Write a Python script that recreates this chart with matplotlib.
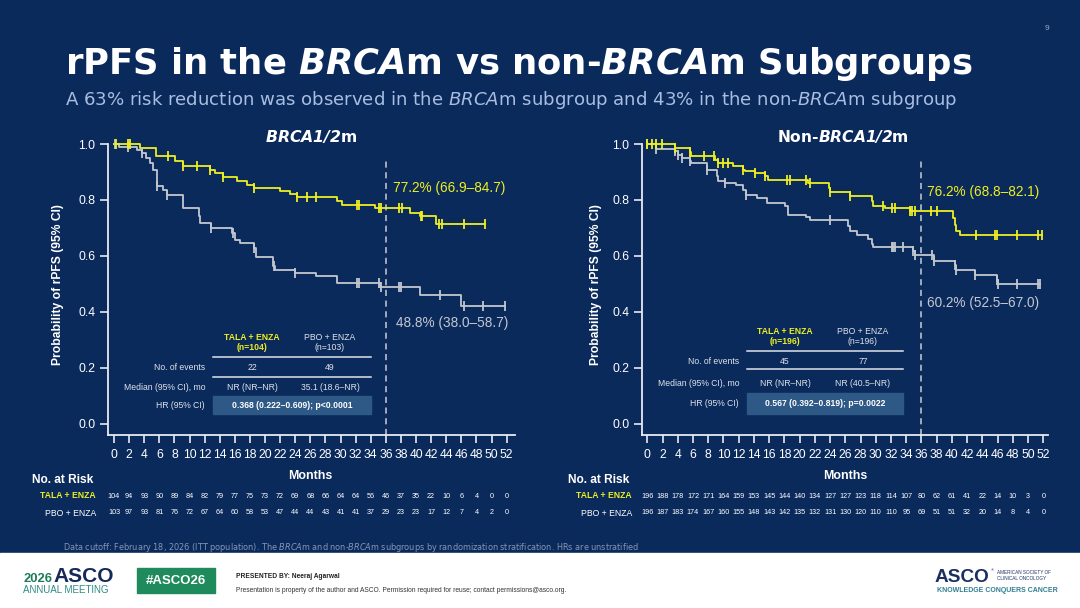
import numpy as np
import matplotlib
matplotlib.use("Agg")
import matplotlib.pyplot as plt
from matplotlib.patches import Rectangle
from matplotlib.lines import Line2D
from matplotlib.transforms import blended_transform_factory

plt.rcParams['font.family'] = ['Liberation Sans', 'DejaVu Sans']
plt.rcParams['mathtext.fontset'] = 'dejavusans'

# ---- data ----
months = list(range(0, 53, 2))

# BRCA1/2m
brca_tala_t = [0, 3.4, 5.6, 8.1, 9.2, 12.7, 13.4, 14.4, 16.3, 17.6, 18.5, 22.0, 23.3, 24.2,
               29.5, 30.2, 34.6, 39.2, 40.5, 42.7]
brca_tala_s = [1.0, 0.985, 0.956, 0.938, 0.92, 0.908, 0.896, 0.882, 0.869, 0.855, 0.843, 0.833,
               0.823, 0.811, 0.798, 0.783, 0.772, 0.754, 0.744, 0.714]
brca_tala_end = 49.1
brca_tala_cens = [0.2, 1.9, 2.1, 7.2, 9.2, 11.0, 12.7, 14.4, 18.6, 24.2, 25.5, 26.8, 32.2, 32.4,
                  35.1, 35.3, 37.8, 38.1, 40.6, 40.8, 43.1, 43.4, 46.3, 49.1]

brca_pbo_t = [0, 0.6, 3.0, 3.7, 4.3, 4.8, 5.2, 5.7, 6.5, 7.0, 9.2, 11.2, 11.4, 12.9, 15.6, 16.0,
              16.7, 18.5, 18.8, 21.1, 21.3, 24.0, 26.8, 29.5, 35.2, 40.5, 46.0]
brca_pbo_s = [1.0, 0.99, 0.98, 0.968, 0.95, 0.932, 0.908, 0.849, 0.837, 0.819, 0.771, 0.742, 0.718,
              0.70, 0.682, 0.658, 0.646, 0.629, 0.598, 0.563, 0.551, 0.539, 0.527, 0.503, 0.488,
              0.462, 0.420]
brca_pbo_end = 51.8
brca_pbo_cens = [0.1, 1.8, 3.7, 5.7, 7.0, 12.9, 15.8, 18.5, 21.2, 24.0, 32.2, 32.4, 35.1, 35.3,
                 37.8, 38.0, 43.2, 46.3, 48.9, 51.8]

brca_risk_tala = [104, 94, 93, 90, 89, 84, 82, 79, 77, 75, 73, 72, 69, 68, 66, 64, 64, 56, 46, 37,
                  35, 22, 10, 6, 4, 0, 0]
brca_risk_pbo = [103, 97, 93, 81, 76, 72, 67, 64, 60, 58, 53, 47, 44, 44, 43, 41, 41, 37, 29, 23,
                 23, 17, 12, 7, 4, 2, 0]

# Non-BRCA1/2m
non_tala_t = [0, 3.6, 5.6, 5.8, 8.9, 9.3, 11.3, 12.6, 12.8, 14.1, 15.5, 15.8, 21.1, 23.8, 24.0,
              26.6, 29.5, 29.7, 31.2, 34.5, 40.2, 40.4, 40.6, 41.0]
non_tala_s = [1.0, 0.986, 0.971, 0.956, 0.944, 0.932, 0.92, 0.908, 0.902, 0.896, 0.885, 0.87,
              0.86, 0.843, 0.827, 0.813, 0.795, 0.78, 0.771, 0.762, 0.735, 0.71, 0.69, 0.674]
non_tala_end = 51.8
non_tala_cens = [0.0, 0.6, 1.2, 1.9, 3.6, 5.6, 7.4, 8.7, 9.3, 10.0, 10.6, 12.6, 14.1, 15.5, 18.3,
                 18.7, 20.9, 21.4, 24.0, 26.6, 31.0, 32.1, 32.5, 34.5, 34.8, 35.1, 37.3, 38.0,
                 43.2, 45.7, 45.9, 48.5, 51.3, 51.8]

non_pbo_t = [0, 1.2, 3.6, 4.0, 4.5, 5.6, 5.8, 7.8, 9.1, 9.3, 10.2, 11.7, 12.6, 13.0, 14.4, 15.7,
             18.1, 18.5, 20.9, 21.4, 26.4, 26.6, 27.5, 29.0, 29.5, 29.7, 34.9, 35.1, 37.6, 40.4,
             40.6, 43.0, 45.9, 46.1]
non_pbo_s = [1.0, 0.982, 0.974, 0.962, 0.95, 0.938, 0.932, 0.908, 0.885, 0.869, 0.861, 0.855,
             0.837, 0.819, 0.807, 0.789, 0.777, 0.748, 0.738, 0.730, 0.706, 0.688, 0.676, 0.661,
             0.644, 0.631, 0.617, 0.602, 0.581, 0.569, 0.551, 0.533, 0.515, 0.50]
non_pbo_end = 51.6
non_pbo_cens = [0.0, 1.2, 3.6, 4.0, 4.5, 5.6, 7.8, 10.2, 13.0, 24.0, 32.1, 32.3, 32.5, 33.6, 34.9,
                35.1, 37.4, 37.6, 40.4, 40.6, 43.0, 45.9, 46.1, 48.5, 51.3, 51.6]

non_risk_tala = [196, 188, 178, 172, 171, 164, 159, 153, 145, 144, 140, 134, 127, 127, 123, 118,
                 114, 107, 80, 62, 61, 41, 22, 14, 10, 3, 0]
non_risk_pbo = [196, 187, 183, 174, 167, 160, 155, 148, 143, 142, 135, 132, 131, 130, 120, 110,
                110, 95, 69, 51, 51, 32, 20, 14, 8, 4, 0]

brca_table = [["22", "49"], ["NR (NR\u2013NR)", "35.1 (18.6\u2013NR)"],
              "0.368 (0.222\u20130.609); p<0.0001"]
non_table = [["45", "77"], ["NR (NR\u2013NR)", "NR (40.5\u2013NR)"],
             "0.567 (0.392\u20130.819); p=0.0022"]
brca_n = ["(n=104)", "(n=103)"]
non_n = ["(n=196)", "(n=196)"]
brca_pct = ["77.2% (66.9\u201384.7)", "48.8% (38.0\u201358.7)"]
non_pct = ["76.2% (68.8\u201382.1)", "60.2% (52.5\u201367.0)"]

# ---- style ----
NAVY = '#0b2a5c'
YEL = '#eeee22'
GRY = '#c3c7cf'
AXC = '#e8ebf2'
BOX = '#2e5886'
DJ = ['DejaVu Sans']
W, H = 1080, 608

fig = plt.figure(figsize=(10.8, 6.08), dpi=100)
fig.patch.set_facecolor(NAVY)
fig.patches.append(Rectangle((0, 0), 1, (H - 553) / H, transform=fig.transFigure,
                             color='white', zorder=0))
renderer = fig.canvas.get_renderer()


def fx(x):
    return x / W


def fy(y):
    return 1 - y / H


def fit(t, width):
    w = t.get_window_extent(renderer).width
    t.set_fontsize(t.get_fontsize() * width / w)
    return t


# header
fit(fig.text(fx(65), fy(74), r"rPFS in the $\mathbfit{BRCA}$m vs non-$\mathbfit{BRCA}$m Subgroups",
             fontsize=24, fontweight='bold', color='white', family=DJ, va='baseline'), 910)
fit(fig.text(fx(65), fy(105), r"A 63% risk reduction was observed in the $\mathit{BRCA}$m subgroup "
             r"and 43% in the non-$\mathit{BRCA}$m subgroup",
             fontsize=12, color='#a9bde0', family=DJ, va='baseline'), 890)
fig.text(fx(1047), fy(28), "9", fontsize=6, color='#9aa8c4', ha='center', va='center')


def step_value(t, s, c):
    i = np.searchsorted(t, c, side='right') - 1
    return np.asarray(s)[i]


def km(ax, t, s, end, cens, color):
    tt = list(t) + [end]
    ss = list(s) + [s[-1]]
    ax.step(tt, ss, where='post', color=color, lw=1.3, clip_on=False, zorder=3)
    cy = step_value(np.array(t), s, np.array(cens))
    ax.plot(cens, cy, ls='none', marker='|', ms=7, mew=1.3, color=color, clip_on=False, zorder=4)


panels = [
    dict(pos=(108, 515), x0=114, x1=506.7, title=r"$\mathbfit{BRCA1/2}$m", title_w=92,
         tcx=311, tala=(brca_tala_t, brca_tala_s, brca_tala_end, brca_tala_cens),
         pbo=(brca_pbo_t, brca_pbo_s, brca_pbo_end, brca_pbo_cens),
         risk=(brca_risk_tala, brca_risk_pbo), table=brca_table, n=brca_n, pct=brca_pct,
         pct_xy=((393, 188), (396, 323)), ylab_x=58, nrisk_x=32, lab_x=96,
         tab=dict(lab=205, c1=252, c2=330, l0=213, l1=371, h1=337, h2=348, ln1=357, r1=367,
                  ln2=377, r2=387, r3=405, b0=396, b1=414)),
    dict(pos=(641.7, 1048), x0=647.3, x1=1043.3, title=r"Non-$\mathbfit{BRCA1/2}$m", title_w=132,
         tcx=843, tala=(non_tala_t, non_tala_s, non_tala_end, non_tala_cens),
         pbo=(non_pbo_t, non_pbo_s, non_pbo_end, non_pbo_cens),
         risk=(non_risk_tala, non_risk_pbo), table=non_table, n=non_n, pct=non_pct,
         pct_xy=((927, 192), (927, 303)), ylab_x=596, nrisk_x=568, lab_x=632,
         tab=dict(lab=739, c1=785, c2=863, l0=747, l1=903, h1=332, h2=342, ln1=351, r1=361,
                  ln2=369, r2=383, r3=404, b0=393, b1=414)),
]

ytop, ybot, y0px = 144, 435, 424
for p in panels:
    L, R = p['pos']
    ax = fig.add_axes([fx(L), fy(ybot), (R - L) / W, (ybot - ytop) / H])
    ax.set_facecolor('none')
    ppm = (p['x1'] - p['x0']) / 52
    ylo = -(ybot - y0px) / (y0px - ytop)
    ax.set_xlim((L - p['x0']) / ppm, (R - p['x0']) / ppm)
    ax.set_ylim(ylo, 1.0)
    for side in ['top', 'right']:
        ax.spines[side].set_visible(False)
    for side in ['left', 'bottom']:
        ax.spines[side].set_color(AXC)
        ax.spines[side].set_linewidth(1.3)
    ax.set_xticks(months)
    ax.set_yticks([0, 0.2, 0.4, 0.6, 0.8, 1.0])
    ax.set_yticklabels(['0.0', '0.2', '0.4', '0.6', '0.8', '1.0'])
    ax.tick_params(colors=AXC, labelcolor='white', labelsize=8.7, length=6, width=1.2, pad=3)
    ax.tick_params(axis='x', pad=4)

    km(ax, *p['pbo'], GRY)
    km(ax, *p['tala'], YEL)
    dash_top = 1.0 - (158 - ytop) / (y0px - ytop)
    ax.plot([36, 36], [ylo, dash_top], color='#c9cdd6', lw=1.1, ls=(0, (4, 3)), zorder=2,
            clip_on=False)

    # labels
    fit(fig.text(fx(p['tcx']), fy(142), p['title'], fontsize=12, fontweight='bold',
                 color='white', family=DJ, ha='center', va='baseline'), p['title_w'])
    fig.text(fx(p['ylab_x']), fy(285), "Probability of rPFS (95% CI)", rotation=90,
             fontsize=8.7, fontweight='bold', color='white', ha='center', va='center')
    fig.text(fx((p['x0'] + p['x1']) / 2), fy(476), "Months", fontsize=8.9, fontweight='bold',
             color='white', ha='center', va='center')
    (px1, py1), (px2, py2) = p['pct_xy']
    fig.text(fx(px1), fy(py1), p['pct'][0], fontsize=9.8, color=YEL, ha='left', va='center')
    fig.text(fx(px2), fy(py2), p['pct'][1], fontsize=9.8, color=GRY, ha='left', va='center')

    # number at risk
    fig.text(fx(p['nrisk_x']), fy(480), "No. at Risk", fontsize=8.6, fontweight='bold',
             color='white', ha='left', va='center')
    fig.text(fx(p['lab_x']), fy(496), "TALA + ENZA", fontsize=6.2, fontweight='bold',
             color=YEL, ha='right', va='center')
    fig.text(fx(p['lab_x']), fy(513), "PBO + ENZA", fontsize=6.2, color='white',
             ha='right', va='center')
    tr = blended_transform_factory(ax.transData, fig.transFigure)
    for m, a, b in zip(months, p['risk'][0], p['risk'][1]):
        ax.text(m, fy(496), str(a), transform=tr, fontsize=5.2, color='white',
                ha='center', va='center')
        ax.text(m, fy(513), str(b), transform=tr, fontsize=5.2, color='white',
                ha='center', va='center')

    # summary table
    tb = p['tab']
    tcol = '#dfe3ea'
    fig.text(fx(tb['c1']), fy(tb['h1']), "TALA + ENZA", fontsize=6.2, fontweight='bold',
             color=YEL, ha='center', va='center')
    fig.text(fx(tb['c1']), fy(tb['h2']), p['n'][0], fontsize=6.2, fontweight='bold',
             color=YEL, ha='center', va='center')
    fig.text(fx(tb['c2']), fy(tb['h1']), "PBO + ENZA", fontsize=6.2, color=tcol,
             ha='center', va='center')
    fig.text(fx(tb['c2']), fy(tb['h2']), p['n'][1], fontsize=6.2, color=tcol,
             ha='center', va='center')
    for yy in (tb['ln1'], tb['ln2']):
        fig.lines.append(Line2D([fx(tb['l0']), fx(tb['l1'])], [fy(yy), fy(yy)],
                                transform=fig.transFigure, color='#dfe3ea', lw=1.1))
    fig.text(fx(tb['lab']), fy(tb['r1']), "No. of events", fontsize=6.2, color=tcol,
             ha='right', va='center')
    fig.text(fx(tb['lab']), fy(tb['r2']), "Median (95% CI), mo", fontsize=6.2, color=tcol,
             ha='right', va='center')
    fig.text(fx(tb['lab']), fy(tb['r3']), "HR (95% CI)", fontsize=6.2, color=tcol,
             ha='right', va='center')
    for col, key in ((0, 'c1'), (1, 'c2')):
        fig.text(fx(tb[key]), fy(tb['r1']), p['table'][0][col], fontsize=6.2, color=tcol,
                 ha='center', va='center')
        fig.text(fx(tb[key]), fy(tb['r2']), p['table'][1][col], fontsize=6.2, color=tcol,
                 ha='center', va='center')
    fig.patches.append(Rectangle((fx(tb['l0']), fy(tb['b1'])), (tb['l1'] - tb['l0']) / W,
                                 (tb['b1'] - tb['b0']) / H, transform=fig.transFigure,
                                 color=BOX, zorder=1))
    fig.text(fx((tb['l0'] + tb['l1']) / 2), fy(tb['r3']), p['table'][2], fontsize=6.2,
             fontweight='bold', color='white', ha='center', va='center', zorder=2)

# footnote
fit(fig.text(fx(63), fy(548), r"Data cutoff: February 18, 2026 (ITT population). The "
             r"$\mathit{BRCA}$m and non-$\mathit{BRCA}$m subgroups by randomization "
             r"stratification. HRs are unstratified",
             fontsize=5.8, color='#8796b4', family=DJ, va='center'), 570)

# footer band
fig.text(fx(23), fy(582), "2026", fontsize=9.4, color='#1f7a5c', ha='left', va='baseline',
         fontweight='bold')
fig.text(fx(53), fy(582), "ASCO", fontsize=15, color='#15295a', ha='left', va='baseline',
         fontweight='bold')
fig.text(fx(23), fy(593), "ANNUAL MEETING", fontsize=7, color='#2f8a86', ha='left',
         va='baseline')
fig.patches.append(Rectangle((fx(137), fy(593)), 78 / W, 25 / H, transform=fig.transFigure,
                             color='#1f8a5b', zorder=1))
fig.text(fx(176), fy(580.5), "#ASCO26", fontsize=9.5, fontweight='bold', color='white',
         ha='center', va='center', zorder=2)
fig.text(fx(236), fy(576), "PRESENTED BY: Neeraj Agarwal", fontsize=4.8, fontweight='bold',
         color='#222222', ha='left', va='center')
fig.text(fx(236), fy(591), "Presentation is property of the author and ASCO. Permission required "
         "for reuse; contact permissions@asco.org.", fontsize=4.8, color='#333333',
         ha='left', va='center')
fig.text(fx(935), fy(582), "ASCO", fontsize=13.7, fontweight='bold', color='#1b2f63',
         ha='left', va='baseline')
fig.text(fx(991), fy(570), "\u00ae", fontsize=3, color='#1b2f63', ha='left', va='center')
fig.text(fx(997), fy(572.5), "AMERICAN SOCIETY OF", fontsize=3.3, color='#1b2f63',
         ha='left', va='center')
fig.text(fx(997), fy(578.5), "CLINICAL ONCOLOGY", fontsize=3.3, color='#1b2f63',
         ha='left', va='center')
fig.text(fx(937), fy(591), "KNOWLEDGE CONQUERS CANCER", fontsize=5.05, fontweight='bold',
         color='#2f7e93', ha='left', va='center')

fig.savefig("out.png", dpi=100, facecolor=fig.get_facecolor())
